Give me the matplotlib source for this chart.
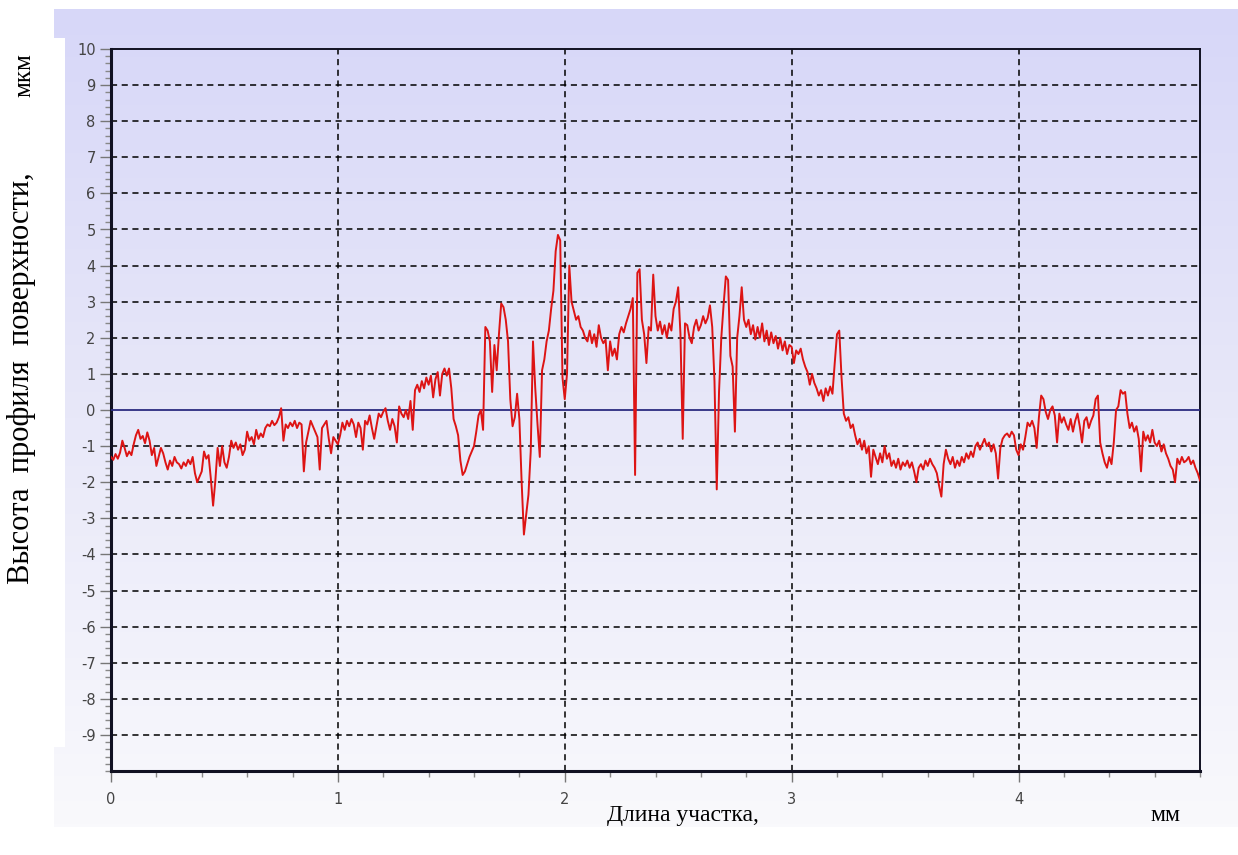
import numpy as np
import matplotlib
matplotlib.use("Agg")
import matplotlib.pyplot as plt
from matplotlib.colors import LinearSegmentedColormap
from matplotlib.patches import Rectangle
from matplotlib.ticker import MultipleLocator

plt.rcParams["axes.unicode_minus"] = False

step_mm = 0.01
h_0_1 = [
    -1.30, -1.38, -1.22, -1.35, -1.18, -0.85, -1.05, -1.28, -1.15, -1.25,
    -0.95, -0.70, -0.55, -0.80, -0.72, -0.92, -0.62, -0.85, -1.25, -1.05,
    -1.55, -1.30, -1.05, -1.20, -1.45, -1.65, -1.40, -1.55, -1.30, -1.45,
    -1.50, -1.62, -1.45, -1.55, -1.38, -1.50, -1.30, -1.75, -2.00, -1.85,
    -1.70, -1.15, -1.35, -1.25, -1.90, -2.65, -1.95, -1.05, -1.55, -1.00,
    -1.45, -1.60, -1.30, -0.85, -1.05, -0.90, -1.10, -0.95, -1.25, -1.10,
    -0.60, -0.85, -0.75, -0.95, -0.55, -0.80, -0.65, -0.75, -0.50, -0.40,
    -0.45, -0.30, -0.42, -0.35, -0.20, 0.05, -0.85, -0.40, -0.50, -0.35,
    -0.45, -0.30, -0.50, -0.35, -0.40, -1.70, -0.90, -0.60, -0.30, -0.45,
    -0.60, -0.75, -1.65, -0.50, -0.40, -0.30, -0.80, -1.20, -0.75, -0.85,
]
h_1_2 = [
    -0.95, -0.70, -0.35, -0.55, -0.30, -0.45, -0.25, -0.40, -0.75, -0.35,
    -0.50, -1.10, -0.30, -0.40, -0.15, -0.50, -0.80, -0.45, -0.10, -0.20,
    -0.05, 0.05, -0.30, -0.55, -0.25, -0.45, -0.90, 0.10, -0.10, -0.20,
    0.00, -0.25, 0.25, -0.55, 0.55, 0.70, 0.50, 0.80, 0.60, 0.90,
    0.70, 0.95, 0.35, 0.85, 1.05, 0.40, 1.00, 1.15, 0.95, 1.15,
    0.60, -0.25, -0.45, -0.70, -1.40, -1.80, -1.70, -1.50, -1.30, -1.15,
    -1.00, -0.60, -0.15, 0.00, -0.55, 2.30, 2.20, 1.90, 0.50, 1.80,
    1.10, 2.10, 2.95, 2.85, 2.50, 1.90, 0.30, -0.45, -0.20, 0.45,
    -0.25, -2.00, -3.45, -2.90, -2.35, -1.15, 1.90, 0.60, -0.40, -1.30,
    1.10, 1.40, 1.90, 2.20, 2.80, 3.30, 4.40, 4.85, 4.70, 0.90,
]
h_2_3 = [
    0.30, 1.00, 4.00, 3.00, 2.75, 2.50, 2.60, 2.30, 2.20, 2.00,
    1.90, 2.20, 1.85, 2.10, 1.75, 2.35, 2.00, 1.85, 1.95, 1.10,
    1.90, 1.50, 1.70, 1.40, 2.10, 2.30, 2.15, 2.40, 2.60, 2.80,
    3.10, -1.80, 3.80, 3.90, 2.50, 2.10, 1.30, 2.30, 2.20, 3.75,
    2.60, 2.20, 2.45, 2.10, 2.35, 2.00, 2.40, 2.20, 2.80, 3.00,
    3.40, 2.10, -0.80, 2.40, 2.35, 2.00, 1.85, 2.30, 2.50, 2.20,
    2.35, 2.60, 2.40, 2.55, 2.90, 2.30, 0.80, -2.20, 0.50, 2.00,
    2.90, 3.70, 3.60, 1.50, 1.20, -0.60, 2.00, 2.60, 3.40, 2.50,
    2.30, 2.50, 2.10, 2.35, 1.95, 2.30, 2.00, 2.40, 1.90, 2.20,
    1.80, 2.15, 1.85, 2.05, 1.70, 2.00, 1.65, 1.90, 1.55, 1.80,
]
h_3_4 = [
    1.75, 1.30, 1.65, 1.55, 1.70, 1.40, 1.20, 1.05, 0.70, 1.00,
    0.75, 0.60, 0.40, 0.55, 0.25, 0.60, 0.40, 0.65, 0.45, 1.30,
    2.10, 2.20, 0.90, -0.10, -0.30, -0.20, -0.50, -0.40, -0.70, -0.95,
    -0.80, -1.10, -0.85, -1.20, -1.00, -1.85, -1.10, -1.30, -1.50, -1.20,
    -1.45, -1.00, -1.35, -1.20, -1.55, -1.40, -1.60, -1.35, -1.65, -1.45,
    -1.55, -1.40, -1.60, -1.45, -1.70, -2.00, -1.60, -1.50, -1.65, -1.40,
    -1.55, -1.35, -1.50, -1.60, -1.75, -2.10, -2.40, -1.50, -1.10, -1.35,
    -1.50, -1.30, -1.60, -1.40, -1.55, -1.30, -1.45, -1.20, -1.35, -1.15,
    -1.30, -1.00, -0.90, -1.10, -0.95, -0.80, -1.00, -0.90, -1.15, -0.95,
    -1.20, -1.90, -1.05, -0.80, -0.70, -0.65, -0.75, -0.60, -0.70, -1.10,
]
h_4_end = [
    -1.25, -0.95, -1.10, -0.75, -0.35, -0.45, -0.30, -0.50, -1.05, -0.20,
    0.40, 0.30, -0.05, -0.25, 0.00, 0.10, -0.15, -0.90, -0.10, -0.35,
    -0.20, -0.40, -0.55, -0.25, -0.60, -0.30, -0.10, -0.45, -0.90, -0.30,
    -0.20, -0.50, -0.30, -0.15, 0.30, 0.40, -0.90, -1.20, -1.45, -1.60,
    -1.30, -1.50, -0.90, 0.00, 0.10, 0.55, 0.45, 0.50, -0.10, -0.50,
    -0.35, -0.60, -0.45, -0.80, -1.70, -0.60, -0.85, -0.70, -0.90, -0.55,
    -0.90, -1.00, -0.85, -1.15, -0.95, -1.20, -1.35, -1.55, -1.65, -2.00,
    -1.35, -1.50, -1.30, -1.45, -1.40, -1.30, -1.50, -1.40, -1.60, -1.75,
    -1.95,
]

x_ticks = [0, 1, 2, 3, 4]
y_ticks = list(range(-9, 11))
x_max = 4.8

heights = np.array(h_0_1 + h_1_2 + h_2_3 + h_3_4 + h_4_end)
x_mm = np.arange(len(heights)) * step_mm

fig = plt.figure(figsize=(12.38, 8.55), dpi=100)

# background panel (pixel coordinates of the picture)
bg = fig.add_axes([0, 0, 1, 1], zorder=-10)
bg.set_xlim(0, 1238)
bg.set_ylim(855, 0)
bg.axis("off")
cmap = LinearSegmentedColormap.from_list("bgc", ["#d7d7f8", "#e8e8f9", "#f9f9fc"])
grad = np.linspace(0, 1, 256)[:, None]
bg.imshow(grad, extent=[54, 1238, 827, 10], aspect="auto", cmap=cmap)
bg.add_patch(Rectangle((54, 38), 11, 709, color="white", lw=0))

ax = fig.add_axes([111 / 1238, (855 - 771) / 855, 1089 / 1238, 722 / 855])
ax.set_facecolor("none")

ax.plot(x_mm, heights, color="#dd1414", lw=1.4, zorder=4)
ax.axhline(0, color="#2a2a80", lw=1.3, zorder=3)

for y in y_ticks:
    if y not in (0, 10):
        ax.axhline(y, color="black", lw=1.1, ls=(0, (4, 3)), zorder=2)
for x in x_ticks[1:]:
    ax.axvline(x, color="black", lw=1.1, ls=(0, (4, 3)), zorder=2)

ax.set_xlim(0, x_max)
ax.set_ylim(-10, 10)
ax.set_xticks(x_ticks)
ax.set_yticks(y_ticks)
ax.xaxis.set_minor_locator(MultipleLocator(0.2))
ax.yaxis.set_minor_locator(MultipleLocator(0.2))
ax.tick_params(which="major", direction="out", length=8, width=1, color="#777777",
               labelsize=10.5, labelcolor="#444444", pad=3, labelfontfamily="DejaVu Sans")
ax.tick_params(which="minor", direction="out", length=4, width=1, color="#888888")
ax.tick_params(axis="x", which="major", pad=7)

for side in ["left", "bottom"]:
    ax.spines[side].set_linewidth(2.2)
for side in ["top", "right"]:
    ax.spines[side].set_linewidth(1.4)
for s in ax.spines.values():
    s.set_color("#111122")

serif = "Liberation Serif"
fig.text(22 / 1238, 1 - 378 / 855, "Высота  профиля  поверхности,", rotation=90,
         ha="center", va="center", fontsize=22, family=serif)
fig.text(24 / 1238, 1 - 75 / 855, "мкм", rotation=90, ha="center", va="center",
         fontsize=18, family=serif)
fig.text(683 / 1238, 1 - 815 / 855, "Длина участка,", ha="center", va="center",
         fontsize=17, family=serif)
fig.text(1165 / 1238, 1 - 815 / 855, "мм", ha="center", va="center",
         fontsize=17, family=serif)

fig.savefig("out.png", dpi=100)
